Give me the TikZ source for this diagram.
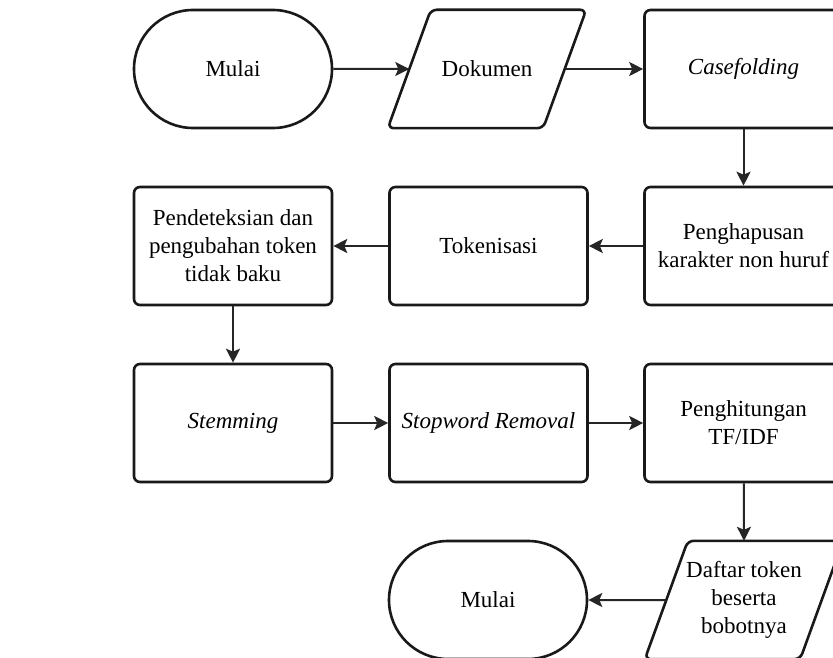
\documentclass[tikz,border=0pt]{standalone}
\usepackage{fontspec}
\setmainfont{Liberation Serif}
\usetikzlibrary{shapes.misc,arrows.meta}
\begin{document}
\begin{tikzpicture}[x=1pt,y=-1pt,
  font=\fontsize{23}{28}\selectfont,
  base/.style={draw=black!90, line width=2.6pt, fill=white, align=center,
    inner sep=0pt, minimum width=198pt, minimum height=118pt},
  terminal/.style={base, rounded rectangle, rounded rectangle arc length=180},
  process/.style={base, rectangle, rounded corners=6pt},
  % data box: an undrawn frame; its slanted outline is added below
  io/.style={align=center, inner sep=0pt, minimum width=198pt, minimum height=118pt},
  ioline/.style={draw=black!90, line width=2.6pt, rounded corners=6pt},
  flow/.style={draw=black!85, line width=2pt, -{Stealth[length=14pt,width=14pt,inset=3pt]}}
]
\useasboundingbox (0,0) rectangle (833,658);
\fill[white] (0,0) rectangle (833,658);
\clip (0,0) rectangle (833,658);

% row 1
\node[terminal] (start) at (233,69) {Mulai};
\node[io] (dok) at (487,69) {Dokumen};
\node[process] (case) at (743.5,69) {\raisebox{-3pt}{\textit{Casefolding}}};
% row 2
\node[process] (detect) at (233,246) {Pendeteksian dan\\pengubahan token\\tidak baku};
\node[process] (token) at (488.5,246) {Tokenisasi};
\node[process] (hapus) at (743.5,246) {Penghapusan\\karakter non huruf};
% row 3
\node[process] (stem) at (233,423) {\textit{Stemming}};
\node[process] (stop) at (488.5,423) {\textit{Stopword Removal}};
\node[process] (tfidf) at (743.5,423) {Penghitungan\\TF/IDF};
% row 4
\node[terminal] (finish) at (488,600) {Mulai};
\node[io] (daftar) at (744,600) {Daftar token\\beserta\\bobotnya};

% slanted outlines of the data boxes
\foreach \n in {dok,daftar}{
  \draw[ioline] ([xshift=43pt]\n.north west) -- (\n.north east)
    -- ([xshift=-43pt]\n.south east) -- (\n.south west) -- cycle;
}

% flow
\draw[flow] (start) -- ([xshift=21.5pt]dok.west);
\draw[flow] ([xshift=-21.5pt]dok.east) -- (case);
\draw[flow] (case) -- (hapus);
\draw[flow] (hapus) -- (token);
\draw[flow] (token) -- (detect);
\draw[flow] (detect) -- (stem);
\draw[flow] (stem) -- (stop);
\draw[flow] (stop) -- (tfidf);
\draw[flow] (tfidf) -- (daftar.north);
\draw[flow] ([xshift=21.5pt]daftar.west) -- (finish);
\end{tikzpicture}
\end{document}
